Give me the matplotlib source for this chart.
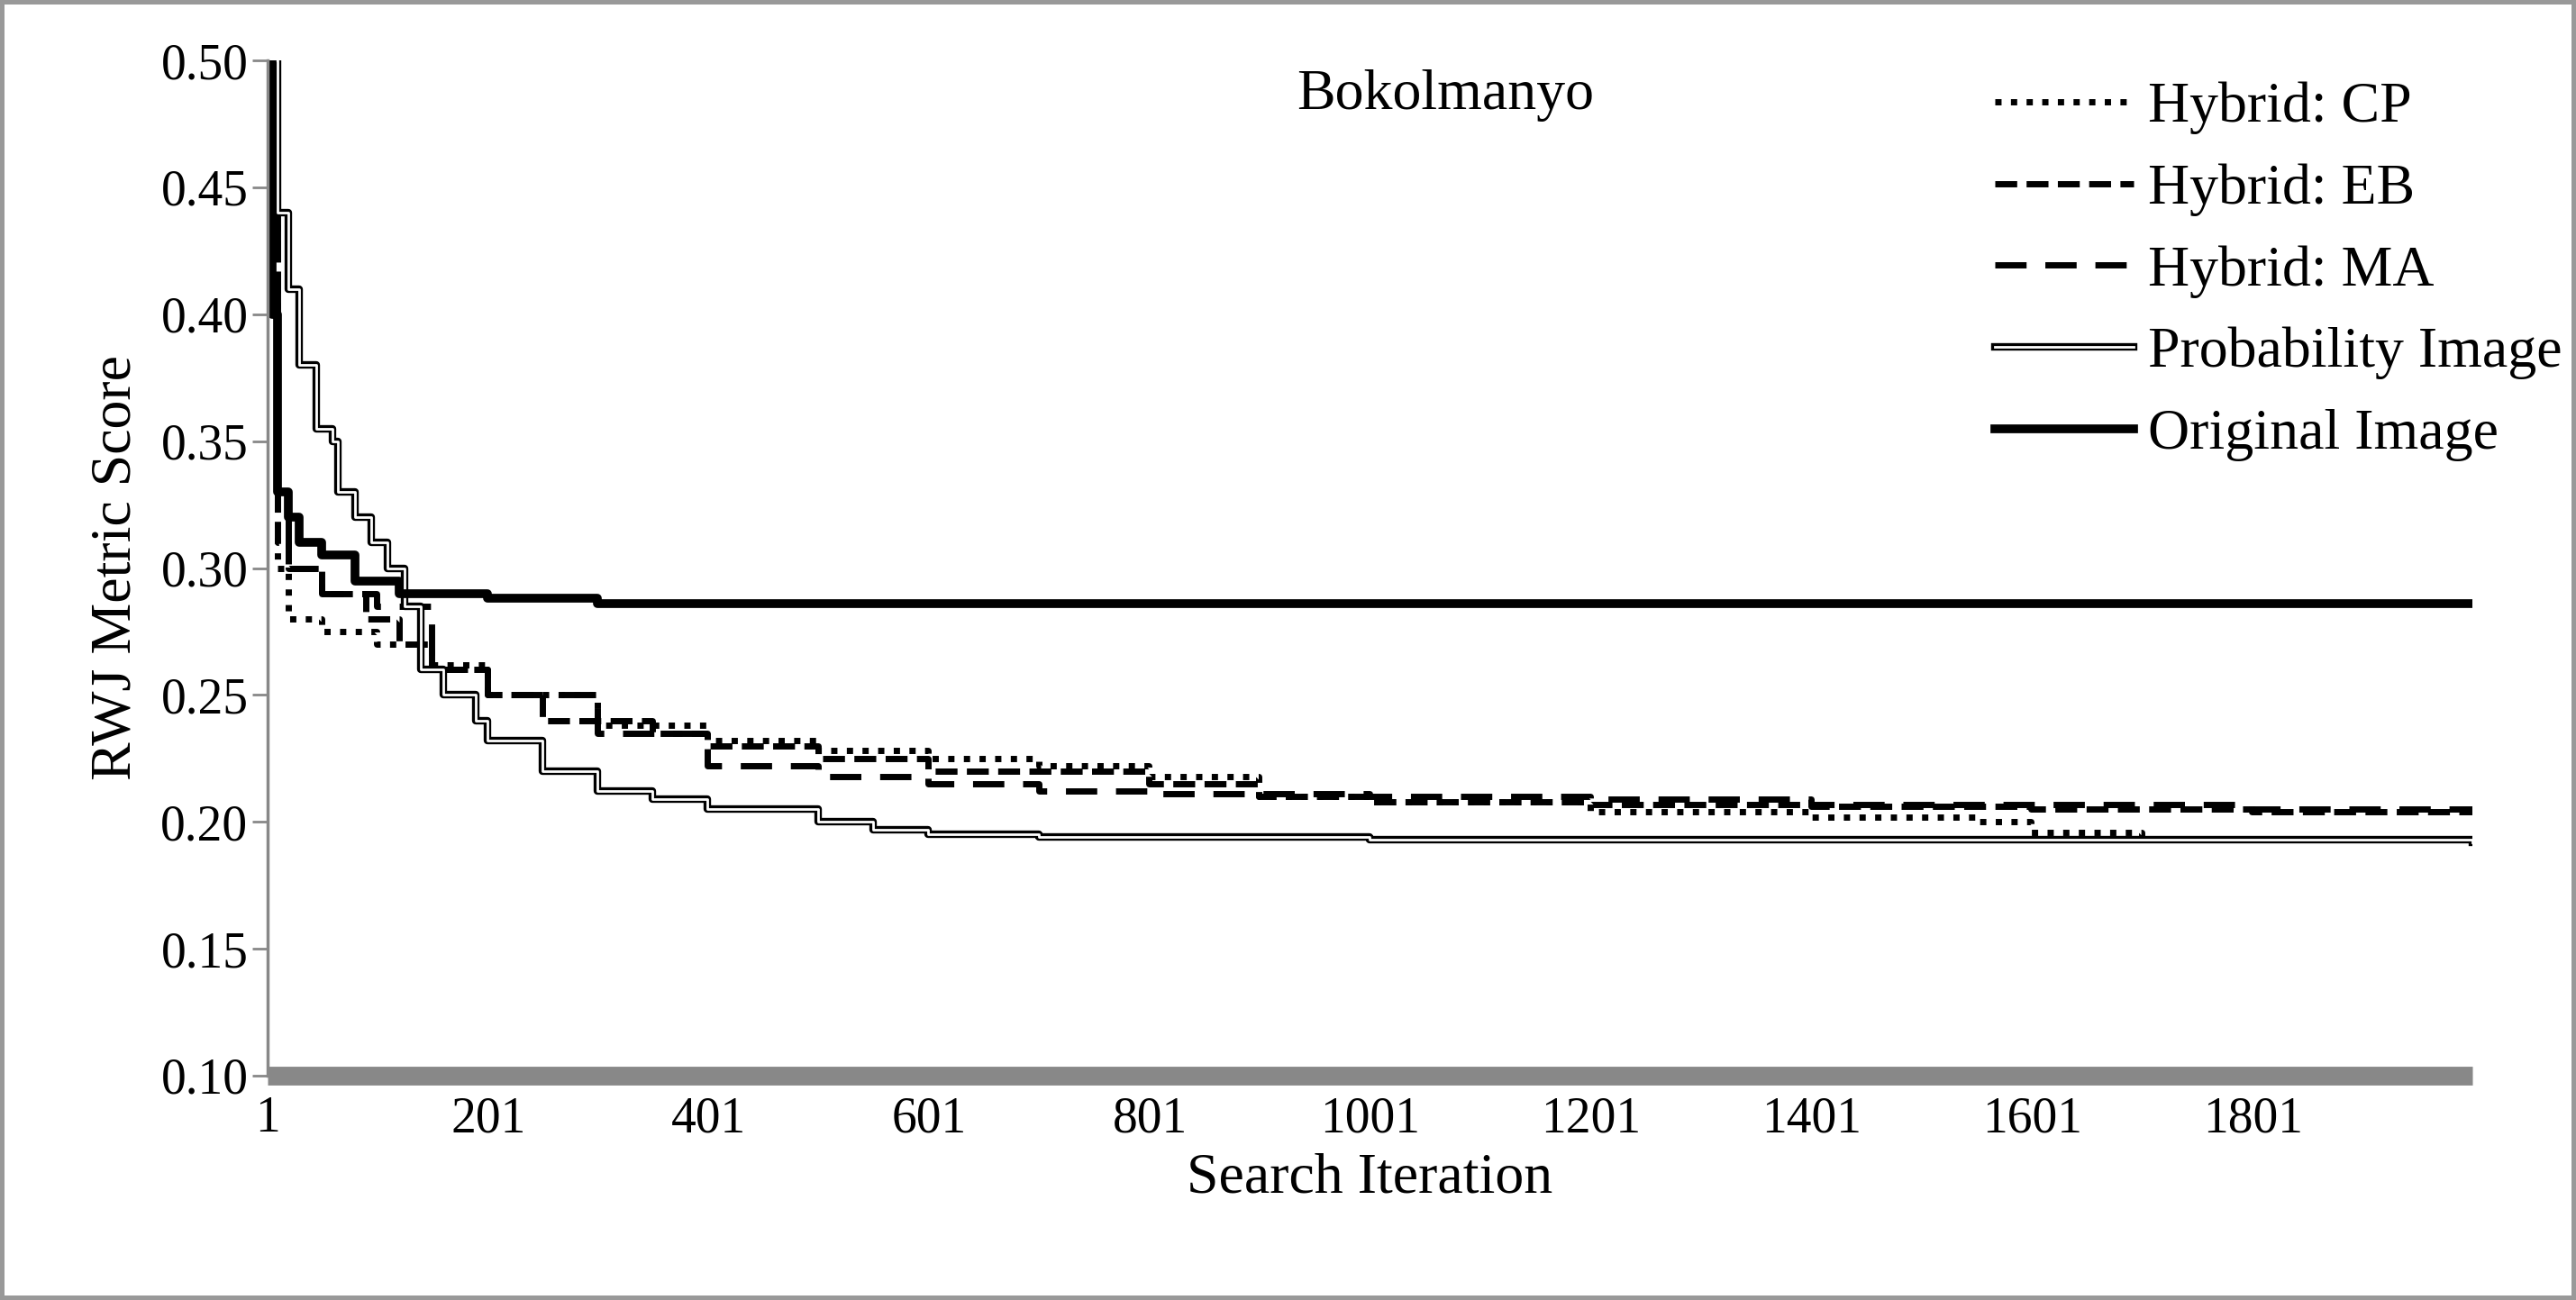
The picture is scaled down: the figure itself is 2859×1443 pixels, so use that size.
import matplotlib

matplotlib.use("Agg")
import matplotlib.pyplot as plt
from matplotlib.lines import Line2D
import matplotlib.patheffects as pe

plt.rcParams["font.family"] = ["Liberation Serif", "DejaVu Serif"]

# Step breakpoints (iteration, score)
orig_x = [1, 5, 10, 20, 30, 50, 80, 120, 200, 300, 2000]
orig_y = [0.50, 0.40, 0.33, 0.32, 0.31, 0.305, 0.295, 0.29, 0.288, 0.286, 0.286]

prob_x = [1, 10, 20, 30, 45, 60, 65, 80, 95, 110, 125, 140, 160, 190, 200, 250, 300, 350, 400, 500, 550, 600, 700, 1000, 2000]
prob_y = [0.50, 0.44, 0.41, 0.38, 0.355, 0.35, 0.33, 0.32, 0.31, 0.30, 0.285, 0.26, 0.25, 0.24, 0.232, 0.22, 0.212, 0.209,
          0.205, 0.200, 0.197, 0.195, 0.194, 0.193, 0.192]

cp_x = [1, 10, 20, 50, 100, 150, 200, 300, 400, 500, 600, 700, 800, 900, 1000, 1200, 1400, 1550, 1600, 1700, 2000]
cp_y = [0.45, 0.30, 0.28, 0.275, 0.27, 0.262, 0.25, 0.238, 0.232, 0.228, 0.225, 0.222, 0.218, 0.21, 0.208, 0.204, 0.202,
        0.200, 0.196, 0.193, 0.193]

eb_x = [1, 10, 20, 50, 90, 120, 150, 200, 250, 350, 400, 500, 600, 800, 900, 1000, 1200, 1400, 1600, 1800, 2000]
eb_y = [0.45, 0.31, 0.30, 0.29, 0.28, 0.27, 0.26, 0.25, 0.24, 0.235, 0.23, 0.225, 0.22, 0.215, 0.21, 0.208, 0.207, 0.206,
        0.205, 0.204, 0.204]

ma_x = [1, 10, 20, 50, 100, 150, 200, 300, 400, 500, 600, 700, 800, 1000, 1200, 1400, 1600, 1800, 2000]
ma_y = [0.45, 0.32, 0.30, 0.29, 0.285, 0.26, 0.25, 0.235, 0.222, 0.218, 0.215, 0.212, 0.211, 0.210, 0.209, 0.207, 0.207,
        0.205, 0.205]

x_ticks = [1, 201, 401, 601, 801, 1001, 1201, 1401, 1601, 1801]
y_ticks = [0.10, 0.15, 0.20, 0.25, 0.30, 0.35, 0.40, 0.45, 0.50]

fig = plt.figure(figsize=(28.59, 14.43), dpi=100)
fig.patch.set_edgecolor("#999999")
fig.patch.set_linewidth(6)
ax = fig.add_axes([297 / 2859, 1 - 1194 / 1443, (2744 - 297) / 2859, (1194 - 67) / 1443])

dotted = (0, (1, 1.5))
dash = (0, (3.5, 1.5))
longdash = (0, (5, 3))
ax.step(cp_x, cp_y, where="post", color="black", lw=5, linestyle=dotted)
ax.step(eb_x, eb_y, where="post", color="black", lw=5, linestyle=dash)
ax.step(ma_x, ma_y, where="post", color="black", lw=5, linestyle=longdash)
ax.step(prob_x, prob_y, where="post", color="black", lw=6)
ax.step(prob_x, prob_y, where="post", color="white", lw=2)
ax.step(orig_x, orig_y, where="post", color="black", lw=7)

ax.set_xlim(1, 2000)
ax.set_ylim(0.10, 0.50)
ax.set_xticks(x_ticks)
ax.set_yticks(y_ticks)
ax.set_yticklabels([f"{v:.2f}" for v in y_ticks])
ax.tick_params(axis="both", labelsize=40, colors="#888888", labelcolor="black", width=2, length=12)
ax.tick_params(axis="x", length=0, pad=16)
for side in ("top", "right"):
    ax.spines[side].set_visible(False)
ax.spines["left"].set_color("#888888")
ax.spines["left"].set_linewidth(2.5)
ax.spines["bottom"].set_color("#888888")
ax.spines["bottom"].set_linewidth(15)
ax.spines["bottom"].set_capstyle("butt")
ax.set_xlabel("Search Iteration", fontsize=46, labelpad=8)
ax.set_ylabel("RWJ Metric Score", fontsize=46, labelpad=14)
ax.text(0.534, 0.965, "Bokolmanyo", transform=ax.transAxes, fontsize=46, ha="center", va="center")

prob_handle = Line2D([], [], color="white", lw=2,
                     path_effects=[pe.Stroke(linewidth=6, foreground="black"), pe.Normal()])
handles = [
    Line2D([], [], color="black", lw=5, linestyle=dotted),
    Line2D([], [], color="black", lw=5, linestyle=dash),
    Line2D([], [], color="black", lw=5, linestyle=longdash),
    prob_handle,
    Line2D([], [], color="black", lw=7),
]
labels = ["Hybrid: CP", "Hybrid: EB", "Hybrid: MA", "Probability Image", "Original Image"]
ax.legend(handles, labels, loc="upper left", bbox_to_anchor=(0.76, 1.03), frameon=False, fontsize=46,
          handlelength=2.4, handletextpad=0.25, labelspacing=0.5)

fig.savefig("out.png", dpi=100)
